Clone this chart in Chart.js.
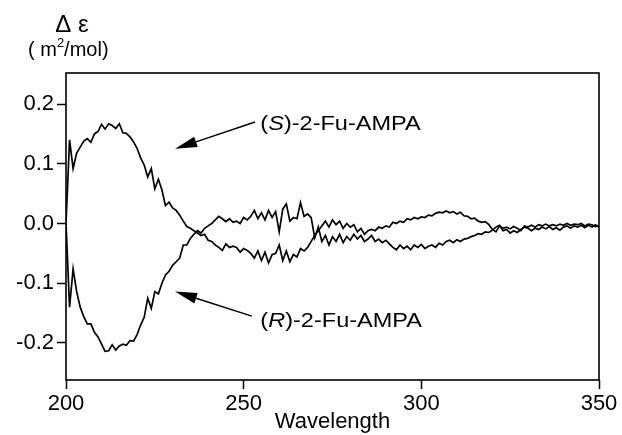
<!DOCTYPE html>
<html>
<head>
<meta charset="utf-8">
<script src="https://cdn.jsdelivr.net/npm/chart.js@4.4.0/dist/chart.umd.min.js"></script>
<style>
  html, body { margin: 0; padding: 0; background: #fff; }
  #wrap { width: 622px; height: 435px; }
</style>
</head>
<body>
<div id="wrap"><canvas id="cdChart" width="622" height="435"></canvas></div>
<script>
// CD spectra of 2-Fu-AMPA enantiomers (1 nm steps)
var wavelengths = [200,201,202,203,204,205,206,207,208,209,210,211,212,213,214,215,216,217,218,219,
  220,221,222,223,224,225,226,227,228,229,230,231,232,233,234,235,236,237,238,239,
  240,241,242,243,244,245,246,247,248,249,250,251,252,253,254,255,256,257,258,259,
  260,261,262,263,264,265,266,267,268,269,270,271,272,273,274,275,276,277,278,279,
  280,281,282,283,284,285,286,287,288,289,290,291,292,293,294,295,296,297,298,299,
  300,301,302,303,304,305,306,307,308,309,310,311,312,313,314,315,316,317,318,319,
  320,321,322,323,324,325,326,327,328,329,330,331,332,333,334,335,336,337,338,339,
  340,341,342,343,344,345,346,347,348,349,350];

var sAmpa = [0.000,0.140,0.092,0.118,0.128,0.138,0.142,0.136,0.150,0.154,0.166,0.158,0.167,0.164,0.159,0.167,0.152,0.151,0.145,0.137,
  0.126,0.110,0.098,0.078,0.092,0.058,0.074,0.056,0.030,0.036,0.026,0.022,0.014,0.004,-0.005,-0.008,-0.012,-0.016,-0.020,-0.018,
  -0.028,-0.030,-0.036,-0.040,-0.045,-0.034,-0.040,-0.038,-0.040,-0.048,-0.042,-0.045,-0.050,-0.058,-0.046,-0.062,-0.048,-0.066,-0.052,-0.050,
  -0.036,-0.062,-0.046,-0.064,-0.052,-0.056,-0.042,-0.046,-0.040,-0.030,-0.020,-0.012,-0.004,0.004,-0.006,0.006,-0.002,0.004,-0.008,0.000,
  -0.006,-0.002,-0.014,-0.008,-0.018,-0.012,-0.010,-0.012,-0.006,-0.008,-0.004,-0.006,0.002,0.000,0.004,0.002,0.008,0.006,0.010,0.008,
  0.011,0.010,0.014,0.013,0.017,0.019,0.018,0.021,0.018,0.020,0.016,0.019,0.013,0.012,0.008,0.009,0.004,0.002,0.003,-0.002,
  -0.010,-0.014,-0.004,-0.008,-0.006,-0.009,-0.005,-0.008,-0.012,-0.004,-0.006,-0.003,-0.006,-0.002,-0.004,-0.001,-0.004,-0.002,-0.004,-0.001,
  -0.003,0.000,-0.003,-0.001,-0.002,0.000,-0.004,-0.001,-0.002,-0.005,-0.004];

var rAmpa = [0.000,-0.140,-0.076,-0.114,-0.140,-0.156,-0.168,-0.168,-0.182,-0.190,-0.202,-0.214,-0.213,-0.203,-0.212,-0.205,-0.202,-0.204,-0.196,-0.197,
  -0.186,-0.170,-0.157,-0.125,-0.142,-0.114,-0.118,-0.100,-0.086,-0.080,-0.070,-0.064,-0.058,-0.036,-0.036,-0.025,-0.018,-0.012,-0.016,-0.008,
  -0.004,0.000,0.006,0.012,0.008,0.003,0.008,0.002,0.004,0.000,0.010,0.006,0.012,0.022,0.008,0.018,0.006,0.022,0.010,0.020,
  -0.014,0.024,0.033,0.004,0.010,0.008,0.035,0.012,0.016,0.010,-0.024,-0.006,-0.030,-0.020,-0.036,-0.022,-0.030,-0.018,-0.032,-0.022,
  -0.028,-0.018,-0.026,-0.020,-0.030,-0.026,-0.020,-0.030,-0.026,-0.032,-0.028,-0.034,-0.040,-0.044,-0.036,-0.042,-0.038,-0.044,-0.036,-0.040,
  -0.035,-0.042,-0.038,-0.036,-0.040,-0.033,-0.036,-0.030,-0.028,-0.032,-0.027,-0.030,-0.026,-0.025,-0.022,-0.020,-0.017,-0.018,-0.014,-0.015,
  -0.011,-0.006,-0.003,-0.012,-0.010,-0.016,-0.012,-0.015,-0.010,-0.006,-0.008,-0.012,-0.008,-0.010,-0.006,-0.009,-0.005,-0.010,-0.007,-0.011,
  -0.006,-0.004,-0.008,-0.004,-0.006,-0.003,-0.007,-0.003,-0.006,-0.002,-0.006];

var xTicks = [200, 250, 300, 350];
var yTicks = [-0.2, -0.1, 0.0, 0.1, 0.2];

var FONT = "'Liberation Sans', Arial, Helvetica, sans-serif";

function points(ys) {
  return wavelengths.map(function (w, i) { return { x: w, y: ys[i] }; });
}

// text with italic parts: segments = [[text, italic], ...]
function drawSegments(ctx, segs, x, y, size, stretch) {
  ctx.save();
  ctx.translate(x, y);
  ctx.scale(stretch, 1);
  var cx = 0;
  segs.forEach(function (s) {
    ctx.font = (s[1] ? 'italic ' : '') + size + 'px ' + FONT;
    ctx.fillText(s[0], cx, 0);
    cx += ctx.measureText(s[0]).width;
  });
  ctx.restore();
}

function drawArrow(ctx, x1, y1, x2, y2) {
  var ang = Math.atan2(y2 - y1, x2 - x1);
  var len = 22, half = 5.5;
  var bx = x2 - len * Math.cos(ang), by = y2 - len * Math.sin(ang);
  ctx.beginPath();
  ctx.moveTo(x1, y1);
  ctx.lineTo(bx, by);
  ctx.stroke();
  ctx.beginPath();
  ctx.moveTo(x2, y2);
  ctx.lineTo(bx + half * Math.sin(ang), by - half * Math.cos(ang));
  ctx.lineTo(bx - half * Math.sin(ang), by + half * Math.cos(ang));
  ctx.closePath();
  ctx.fill();
}

var cdLabels = {
  id: 'cdLabels',
  afterDraw: function (chart) {
    var ctx = chart.ctx, a = chart.chartArea;
    var x = chart.scales.x, y = chart.scales.y;
    ctx.save();
    ctx.strokeStyle = '#000';
    ctx.fillStyle = '#000';
    ctx.lineWidth = 1.6;
    ctx.strokeRect(a.left, a.top, a.right - a.left, a.bottom - a.top);

    // y axis title
    ctx.textBaseline = 'alphabetic';
    ctx.textAlign = 'center';
    ctx.font = '24px ' + FONT;
    ctx.fillText('\u0394 \u03b5', a.left + 6, 32);
    ctx.textAlign = 'left';
    ctx.font = '20px ' + FONT;
    var t1 = '( m', t2 = '/mol)';
    var lx = 28;
    ctx.fillText(t1, lx, 56);
    lx += ctx.measureText(t1).width;
    ctx.font = '13px ' + FONT;
    ctx.fillText('2', lx, 47);
    lx += ctx.measureText('2').width;
    ctx.font = '20px ' + FONT;
    ctx.fillText(t2, lx, 56);

    // series labels and arrows (placed in data units)
    drawSegments(ctx, [['(', false], ['S', true], [')-2-Fu-AMPA', false]],
      x.getPixelForValue(254.7), y.getPixelForValue(0.156), 21, 1.12);
    drawSegments(ctx, [['(', false], ['R', true], [')-2-Fu-AMPA', false]],
      x.getPixelForValue(254.7), y.getPixelForValue(-0.173), 21, 1.12);

    ctx.lineWidth = 1.5;
    drawArrow(ctx, x.getPixelForValue(253.2), y.getPixelForValue(0.170),
      x.getPixelForValue(230.7), y.getPixelForValue(0.125));
    drawArrow(ctx, x.getPixelForValue(252.3), y.getPixelForValue(-0.155),
      x.getPixelForValue(230.7), y.getPixelForValue(-0.114));
    ctx.restore();
  }
};

var ctx = document.getElementById('cdChart').getContext('2d');
var cdChart = new Chart(ctx, {
  type: 'line',
  data: {
    datasets: [{
      label: '(S)-2-Fu-AMPA',
      data: points(sAmpa),
      borderColor: '#000',
      borderWidth: 1.7,
      pointRadius: 0,
      tension: 0,
      fill: false
    }, {
      label: '(R)-2-Fu-AMPA',
      data: points(rAmpa),
      borderColor: '#000',
      borderWidth: 1.7,
      pointRadius: 0,
      tension: 0,
      fill: false
    }]
  },
  options: {
    responsive: false,
    animation: false,
    devicePixelRatio: 1,
    layout: { padding: { top: 73, right: 23, left: 0, bottom: 0 } },
    plugins: {
      legend: { display: false },
      tooltip: { enabled: false }
    },
    scales: {
      x: {
        type: 'linear',
        min: 200,
        max: 350,
        afterBuildTicks: function (s) { s.ticks = xTicks.map(function (v) { return { value: v }; }); },
        afterFit: function (s) { s.height = 55; },
        ticks: {
          color: '#000',
          font: { family: FONT, size: 22 },
          padding: 2,
          maxRotation: 0,
          callback: function (v) { return String(v); }
        },
        grid: { display: true, drawOnChartArea: false, drawTicks: true, tickLength: 9, tickColor: '#000', tickWidth: 1.5 },
        border: { display: false },
        title: {
          display: true,
          text: 'Wavelength',
          color: '#000',
          font: { family: FONT, size: 22 },
          padding: { top: 0, bottom: 0 }
        }
      },
      y: {
        min: -0.262,
        max: 0.252,
        afterBuildTicks: function (s) { s.ticks = yTicks.map(function (v) { return { value: v }; }); },
        afterFit: function (s) { s.width = 66; },
        ticks: {
          color: '#000',
          font: { family: FONT, size: 22 },
          padding: 3,
          callback: function (v) { return v.toFixed(1); }
        },
        grid: { display: true, drawOnChartArea: false, drawTicks: true, tickLength: 9, tickColor: '#000', tickWidth: 1.5 },
        border: { display: false }
      }
    }
  },
  plugins: [cdLabels]
});
</script>
</body>
</html>
